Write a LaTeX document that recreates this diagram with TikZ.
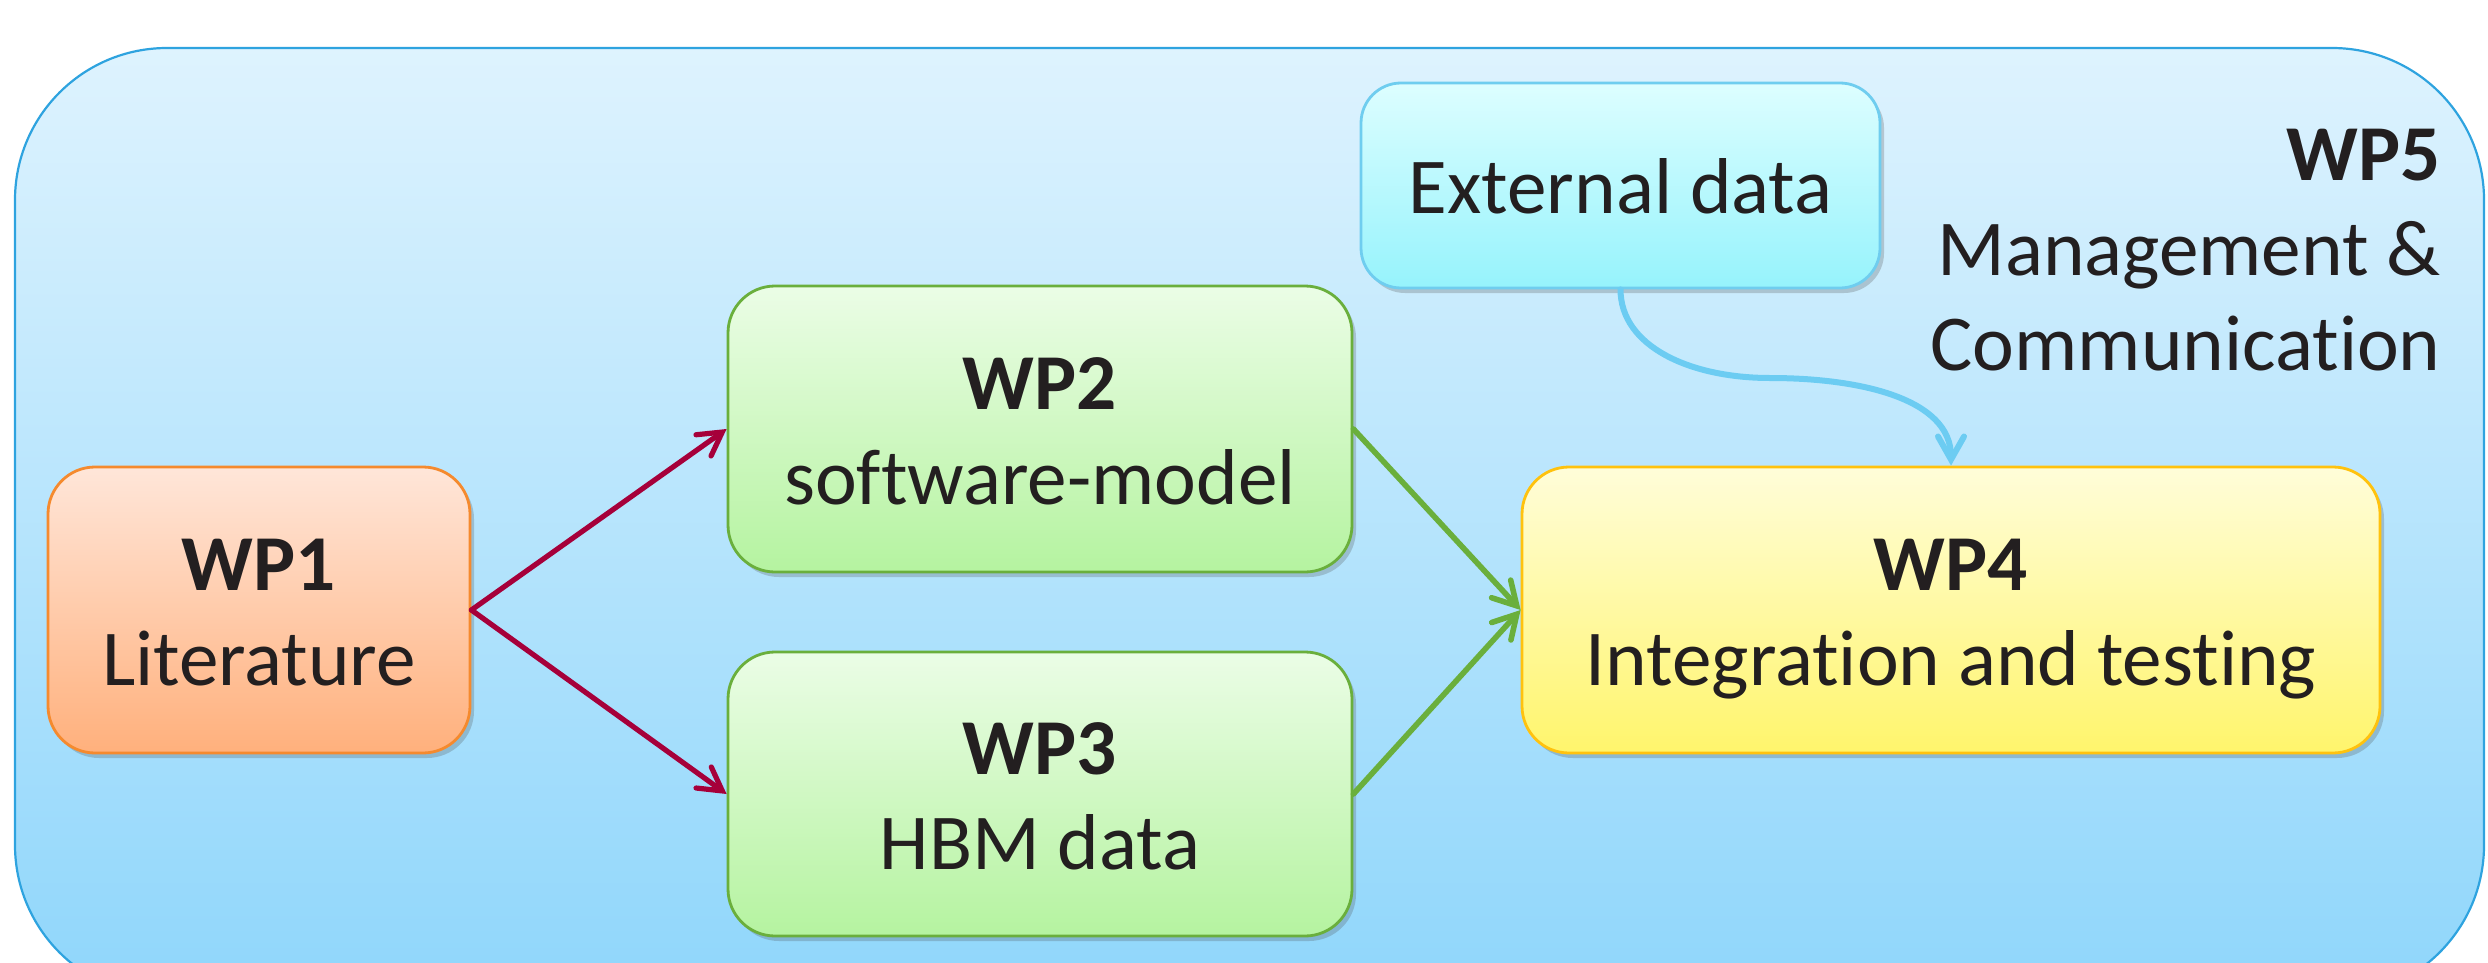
\documentclass[tikz,border=0pt]{standalone}
\usepackage{fontspec}
\setmainfont[Ligatures={NoCommon}]{Carlito}
\usetikzlibrary{arrows.meta,shadows}
\definecolor{txt}{HTML}{231F20}
\definecolor{outerTop}{HTML}{DEF3FE}
\definecolor{outerBot}{HTML}{8FD6FB}
\definecolor{outerLine}{HTML}{2EA3DF}
\definecolor{orTop}{HTML}{FFE6D9}
\definecolor{orBot}{HTML}{FFB07C}
\definecolor{orLine}{HTML}{F58A2E}
\definecolor{grTop}{HTML}{EBFDE6}
\definecolor{grBot}{HTML}{B5F3A0}
\definecolor{grLine}{HTML}{6AAF3C}
\definecolor{ylTop}{HTML}{FFFDD9}
\definecolor{ylBot}{HTML}{FFF56C}
\definecolor{ylLine}{HTML}{FFC20E}
\definecolor{cyTop}{HTML}{DDFEFF}
\definecolor{cyBot}{HTML}{96F3FC}
\definecolor{cyLine}{HTML}{6FCDEF}
\definecolor{redArr}{HTML}{A6003A}
\definecolor{grArr}{HTML}{6AAF3C}
\definecolor{blArr}{HTML}{6CCCF2}
\newcommand{\boxfont}{\fontsize{39.6pt}{47.5pt}\selectfont}
\newcommand{\mystrut}{\vrule height 37.5pt depth 10pt width 0pt}
\tikzset{
  wpbox/.style={draw, line width=1.4pt, rounded corners=23.5pt, align=center,
    inner sep=0pt, font=\boxfont, text=txt,
    drop shadow={shadow xshift=2pt, shadow yshift=-2.5pt, opacity=0.25, fill=black!70}},
  orangebox/.style={wpbox, draw=orLine, top color=orTop, bottom color=orBot},
  greenbox/.style={wpbox, draw=grLine, top color=grTop, bottom color=grBot},
  yellowbox/.style={wpbox, draw=ylLine, top color=ylTop, bottom color=ylBot},
  cyanbox/.style={wpbox, draw=cyLine, top color=cyTop, bottom color=cyBot, rounded corners=20pt},
  outerbox/.style={draw=outerLine, line width=1.1pt, rounded corners=76pt,
    top color=outerTop, bottom color=outerBot, inner sep=0pt},
  wptext/.style={anchor=base east, inner sep=0pt, font=\boxfont, text=txt},
  redarrow/.style={draw=redArr, line width=2.6pt, line cap=round,
    -{Straight Barb[length=11.5pt, width=13pt, line cap=round]}},
  greenarrow/.style={draw=grArr, line width=2.8pt, line cap=round,
    -{Straight Barb[length=11.5pt, width=13pt, line cap=round]}},
  bluearrow/.style={draw=blArr, line width=3pt, line cap=round,
    -{Straight Barb[length=11.5pt, width=13pt, line cap=round]}},
}
\begin{document}
\begin{tikzpicture}[x=0.5pt, y=-0.5pt]
\useasboundingbox (0,0) rectangle (2488,963);
\clip (0,0) rectangle (2488,963);
\node[outerbox, minimum width=1234.5pt, minimum height=474.5pt] (outer) at (1249.5,522.5) {};

\node[wptext] (wp5) at (2441,180) {\textbf{WP5}};
\node[wptext] (wp5b) at (2441,275) {Management \&};
\node[wptext] (wp5c) at (2441,370) {Communication};

\node[orangebox, minimum width=211pt, minimum height=143pt] (wp1) at (259,610)
  {\mystrut\textbf{WP1}\\\mystrut Literature};
\node[greenbox, minimum width=312pt, minimum height=143pt] (wp2) at (1040,429)
  {\mystrut\textbf{WP2}\\\mystrut software-model};
\node[greenbox, minimum width=312pt, minimum height=142pt] (wp3) at (1040,794)
  {\mystrut\textbf{WP3}\\\mystrut HBM data};
\node[yellowbox, minimum width=429pt, minimum height=143pt] (wp4) at (1951,610)
  {\mystrut\textbf{WP4}\\\mystrut Integration and testing};
\node[cyanbox, minimum width=259.5pt, minimum height=102.5pt] (ext) at (1620.5,185.5)
  {\mystrut External data};

\coordinate (bend) at (1770,378);

\draw[redarrow] (wp1.east) -- (wp2.west);
\draw[redarrow] (wp1.east) -- (wp3.west);
\draw[greenarrow] (wp2.east) -- (wp4.west);
\draw[greenarrow] (wp3.east) -- (wp4.west);
\draw[bluearrow] (ext.south) .. controls +(0,57) and +(-80,0) .. (bend)
  .. controls +(90,0) and +(0,-67) .. (wp4.north);
\end{tikzpicture}
\end{document}
